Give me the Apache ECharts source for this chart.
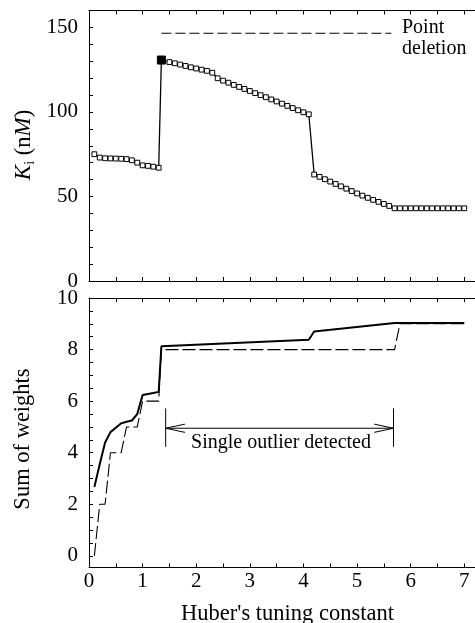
<!DOCTYPE html>
<html>
<head>
<meta charset="utf-8">
<script src="https://cdn.jsdelivr.net/npm/echarts@6/dist/echarts.min.js"></script>
<style>html,body{margin:0;padding:0;background:#fff;}#c{width:475px;height:623px;}</style>
</head>
<body>
<div id="c"></div>
<script>
// ---- Data ----
// Top panel: Ki (nM) vs Huber's tuning constant
const kiX = [0.1,0.2,0.3,0.4,0.5,0.6,0.7,0.8,0.9,1.0,1.1,1.2,1.3,
  1.35,
  1.5,1.6,1.7,1.8,1.9,2.0,2.1,2.2,2.3,2.4,2.5,2.6,2.7,2.8,2.9,3.0,3.1,3.2,3.3,3.4,3.5,3.6,3.7,3.8,3.9,4.0,4.1,
  4.2,4.3,4.4,4.5,4.6,4.7,4.8,4.9,5.0,5.1,5.2,5.3,5.4,5.5,5.6,5.7,
  5.8,5.9,6.0,6.1,6.2,6.3,6.4,6.5,6.6,6.7,6.8,6.9,7.0];
const kiY = [75,73,72.6,72.5,72.4,72.3,72.1,71.4,70,68.4,68.1,67.6,67,
  130.7,
  129.5,128.8,128.0,127.2,126.4,125.7,125.0,124.3,123.2,119.9,118.5,117.3,116.0,114.8,113.6,112.4,111.1,109.9,108.7,107.4,106.2,104.9,103.6,102.3,101.0,99.8,98.6,
  63.0,61.6,60.2,58.8,57.4,56.0,54.6,53.2,51.8,50.5,49.2,48.0,46.8,45.6,44.4,43.0,
  43,43,43,43,43,43,43,43,43,43,43,43,43];
const filledX = 1.35;            // highlighted (deleted) point
const deletionX = [1.35, 5.64];  // "Point deletion" reference line
const deletionY = [146.5, 146.5];

// Bottom panel: sum of weights
const swSolidX = [0.1,0.2,0.3,0.4,0.5,0.6,0.7,0.8,0.9,1.0,1.1,1.2,1.3,1.35,4.1,4.2,5.7,7.0];
const swSolidY = [2.67,3.55,4.4,4.8,4.97,5.14,5.2,5.25,5.5,6.24,6.28,6.32,6.36,8.13,8.38,8.7,9.03,9.03];
const swDashX = [0.1,0.2,0.3,0.4,0.6,0.7,0.9,1.0,1.3,1.35,5.7,5.8,7.0];
const swDashY = [0,2,2,4,4,5,5,6,6,8,8,9,9];

// "Single outlier detected" bracket (data coordinates)
const bracketX = [1.43, 5.68];
const bracketYRange = [4.23, 5.72];
const bracketY = 4.95;
const headDX = 0.36, headDY = 0.16;

// Tick / label values
const xTicks = [0,0.5,1,1.5,2,2.5,3,3.5,4,4.5,5,5.5,6,6.5,7];
const xLabels = [0,1,2,3,4,5,6,7];
const kiTicks = [0,10,20,30,40,50,60,70,80,90,100,110,120,130,140,150,160];
const kiLabels = [0,50,100,150];
const swTicks = [0,0.5,1,1.5,2,2.5,3,3.5,4,4.5,5,5.5,6,6.5,7,7.5,8,8.5,9,9.5,10];
const swLabels = [0,2,4,6,8,10];

// ---- Chart ----
const FONT = 'Liberation Serif';
const chart = echarts.init(document.getElementById('c'), null, {renderer:'canvas'});

function xAx(grid, pos, labels){
  return {
    type:'value', gridIndex:grid, position:pos, min:0, max:7.2,
    axisLine:{show:true, onZero:false, lineStyle:{color:'#000', width:1}},
    axisTick:{show:true, inside:true, length:4, customValues:xTicks, lineStyle:{color:'#000'}},
    axisLabel:labels ? {show:true, customValues:xLabels, margin:3, color:'#000', fontFamily:FONT, fontSize:21} : {show:false},
    splitLine:{show:false}
  };
}
function yAx(grid, min, max, ticks, labels){
  return {
    type:'value', gridIndex:grid, min:min, max:max,
    axisLine:{show:true, onZero:false, lineStyle:{color:'#000', width:1}},
    axisTick:{show:true, inside:true, length:4, customValues:ticks, lineStyle:{color:'#000'}},
    axisLabel:{show:true, customValues:labels, margin:11, color:'#000', fontFamily:FONT, fontSize:21},
    splitLine:{show:false}
  };
}
function pairs(xs, ys){ return xs.map((x,i)=>[x, ys[i]]); }

const kiData = kiX.map((x,i)=> x===filledX
  ? {value:[x,kiY[i]], symbolSize:8, itemStyle:{color:'#000', borderColor:'#000'}}
  : [x,kiY[i]]);

const thin = {color:'#000', width:1};
const option = {
  animation:false,
  backgroundColor:'#fff',
  grid:[
    {left:89, top:10.5, width:387.4, height:270.5},
    {left:89, top:298, width:387.4, height:269.5}
  ],
  xAxis:[xAx(0,'bottom',false), xAx(0,'top',false), xAx(1,'bottom',true), xAx(1,'top',false)],
  yAxis:[yAx(0,0,160,kiTicks,kiLabels), yAx(1,-0.45,10,swTicks,swLabels)],
  series:[
    {type:'line', xAxisIndex:0, yAxisIndex:0, data:kiData, symbol:'rect', symbolSize:4.8,
     itemStyle:{color:'#fff', borderColor:'#000', borderWidth:1}, lineStyle:{color:'#000', width:1.3}, z:3},
    {type:'line', xAxisIndex:0, yAxisIndex:0, data:pairs(deletionX, deletionY), symbol:'none',
     lineStyle:{color:'#000', width:1.1, type:[10,4]}},
    {type:'line', xAxisIndex:2, yAxisIndex:1, data:pairs(swSolidX, swSolidY), symbol:'none',
     lineStyle:{color:'#000', width:2}, z:3},
    {type:'line', xAxisIndex:2, yAxisIndex:1, data:pairs(swDashX, swDashY), symbol:'none',
     lineStyle:{color:'#000', width:1.1, type:[13,4]}},
    {type:'line', xAxisIndex:2, yAxisIndex:1, symbol:'none', lineStyle:thin,
     data:[[bracketX[0],bracketY],[bracketX[1],bracketY]]},
    {type:'line', xAxisIndex:2, yAxisIndex:1, symbol:'none', lineStyle:thin,
     data:[[bracketX[0],bracketYRange[0]],[bracketX[0],bracketYRange[1]]]},
    {type:'line', xAxisIndex:2, yAxisIndex:1, symbol:'none', lineStyle:thin,
     data:[[bracketX[1],bracketYRange[0]],[bracketX[1],bracketYRange[1]]]},
    {type:'line', xAxisIndex:2, yAxisIndex:1, symbol:'none', lineStyle:thin,
     data:[[bracketX[0]+headDX,bracketY+headDY],[bracketX[0],bracketY],[bracketX[0]+headDX,bracketY-headDY]]},
    {type:'line', xAxisIndex:2, yAxisIndex:1, symbol:'none', lineStyle:thin,
     data:[[bracketX[1]-headDX,bracketY+headDY],[bracketX[1],bracketY],[bracketX[1]-headDX,bracketY-headDY]]}
  ],
  graphic:[
    {type:'text', left:402, top:18, style:{text:'Point', fontFamily:FONT, fontSize:20, fill:'#000'}},
    {type:'text', left:402, top:39, style:{text:'deletion', fontFamily:FONT, fontSize:20, fill:'#000'}},
    {type:'text', x:281, y:443, style:{text:'Single outlier detected', x:0, y:0, align:'center', verticalAlign:'middle', fontFamily:FONT, fontSize:20, fill:'#000'}},
    {type:'text', x:287.5, y:614, style:{text:"Huber's tuning constant", x:0, y:0, align:'center', verticalAlign:'middle', fontFamily:FONT, fontSize:22.5, fill:'#000'}},
    {type:'text', x:23.5, y:439, rotation:Math.PI/2, style:{text:'Sum of weights', x:0, y:0, align:'center', verticalAlign:'middle', fontFamily:FONT, fontSize:22.5, fill:'#000'}},
    {type:'text', x:24, y:145, rotation:Math.PI/2, style:{text:'{k|K}{s|i} (n{k|M})', x:0, y:0, align:'center', verticalAlign:'middle', fontFamily:FONT, fontSize:22.5, fill:'#000',
      rich:{k:{fontStyle:'italic', fontFamily:FONT, fontSize:23, lineHeight:26, verticalAlign:'middle'},
            s:{fontFamily:FONT, fontSize:14, lineHeight:26, verticalAlign:'bottom'}}}}
  ]
};
chart.setOption(option);
</script>
</body>
</html>
